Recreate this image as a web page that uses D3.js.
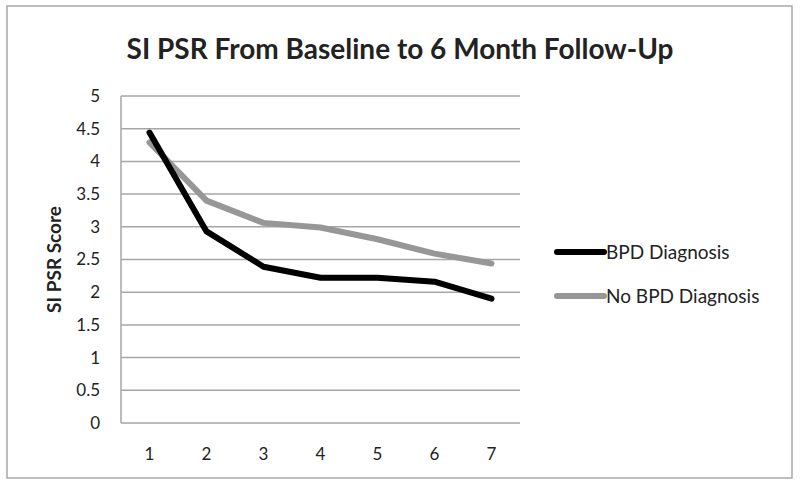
<!DOCTYPE html>
<html>
<head>
<meta charset="utf-8">
<script src="https://cdn.jsdelivr.net/npm/d3@7"></script>
<style>
  body { margin: 0; background: #fff; }
  text { font-family: Lato, "Open Sans", sans-serif; fill: #222; }
</style>
</head>
<body>
<svg id="chart" width="800" height="485"></svg>
<script>
// data
var timepoints = [1, 2, 3, 4, 5, 6, 7];
var bpdScores   = [4.44, 2.93, 2.39, 2.22, 2.22, 2.16, 1.90];
var noBpdScores = [4.29, 3.40, 3.06, 2.99, 2.81, 2.59, 2.44];
var yTicks = [0, 0.5, 1, 1.5, 2, 2.5, 3, 3.5, 4, 4.5, 5];

var series = [
  { name: "BPD Diagnosis",    values: bpdScores,   color: "#000" },
  { name: "No BPD Diagnosis", values: noBpdScores, color: "#979797" }
];

var svg = d3.select("#chart");

// outer frame
svg.append("rect")
   .attr("x", 7).attr("y", 6)
   .attr("width", 785).attr("height", 472)
   .attr("fill", "none")
   .attr("stroke", "#a8a8a8")
   .attr("stroke-width", 1.5);

var plot = { left: 121, right: 520, top: 96, bottom: 423 };

var x = d3.scalePoint()
          .domain(timepoints)
          .range([plot.left, plot.right])
          .padding(0.5);

var y = d3.scaleLinear()
          .domain([0, 5])
          .range([plot.bottom, plot.top]);

// gridlines
svg.append("g").attr("class", "grid")
   .selectAll("line")
   .data(yTicks)
   .join("line")
   .attr("x1", plot.left).attr("x2", plot.right)
   .attr("y1", function(d) { return y(d); })
   .attr("y2", function(d) { return y(d); })
   .attr("stroke", "#a6a6a6")
   .attr("stroke-width", 1.5);

// left axis line
svg.append("line")
   .attr("x1", plot.left).attr("x2", plot.left)
   .attr("y1", plot.top).attr("y2", plot.bottom)
   .attr("stroke", "#a6a6a6")
   .attr("stroke-width", 1.5);

// y tick labels
svg.append("g")
   .selectAll("text")
   .data(yTicks)
   .join("text")
   .attr("x", 100)
   .attr("y", function(d) { return y(d); })
   .attr("dy", "0.35em")
   .attr("text-anchor", "end")
   .attr("font-size", 17)
   .text(function(d) { return d; });

// x tick labels
svg.append("g")
   .selectAll("text")
   .data(timepoints)
   .join("text")
   .attr("x", function(d) { return x(d); })
   .attr("y", 460)
   .attr("text-anchor", "middle")
   .attr("font-size", 17)
   .text(function(d) { return d; });

// title
svg.append("text")
   .attr("x", 400).attr("y", 59)
   .attr("text-anchor", "middle")
   .attr("font-size", 28)
   .attr("font-weight", "bold")
   .text("SI PSR From Baseline to 6 Month Follow-Up");

// y axis title
svg.append("text")
   .attr("transform", "translate(61," + ((plot.top + plot.bottom) / 2) + ") rotate(-90)")
   .attr("text-anchor", "middle")
   .attr("font-size", 19)
   .attr("font-weight", "bold")
   .text("SI PSR Score");

var line = d3.line()
             .x(function(d, i) { return x(timepoints[i]); })
             .y(function(d) { return y(d); });

// draw grey first so black sits on top, like the reference
series.slice().reverse().forEach(function(s) {
  svg.append("path")
     .attr("d", line(s.values))
     .attr("fill", "none")
     .attr("stroke", s.color)
     .attr("stroke-width", 6)
     .attr("stroke-linejoin", "round")
     .attr("stroke-linecap", "round");
});

// legend
var legend = svg.append("g").selectAll("g")
   .data(series)
   .join("g")
   .attr("transform", function(d, i) { return "translate(557," + (252 + i * 44) + ")"; });

legend.append("line")
      .attr("x1", 0).attr("x2", 47)
      .attr("stroke", function(d) { return d.color; })
      .attr("stroke-width", 6)
      .attr("stroke-linecap", "round");

legend.append("text")
      .attr("x", 49)
      .attr("dy", "0.35em")
      .attr("font-size", 19)
      .text(function(d) { return d.name; });
</script>
</body>
</html>
